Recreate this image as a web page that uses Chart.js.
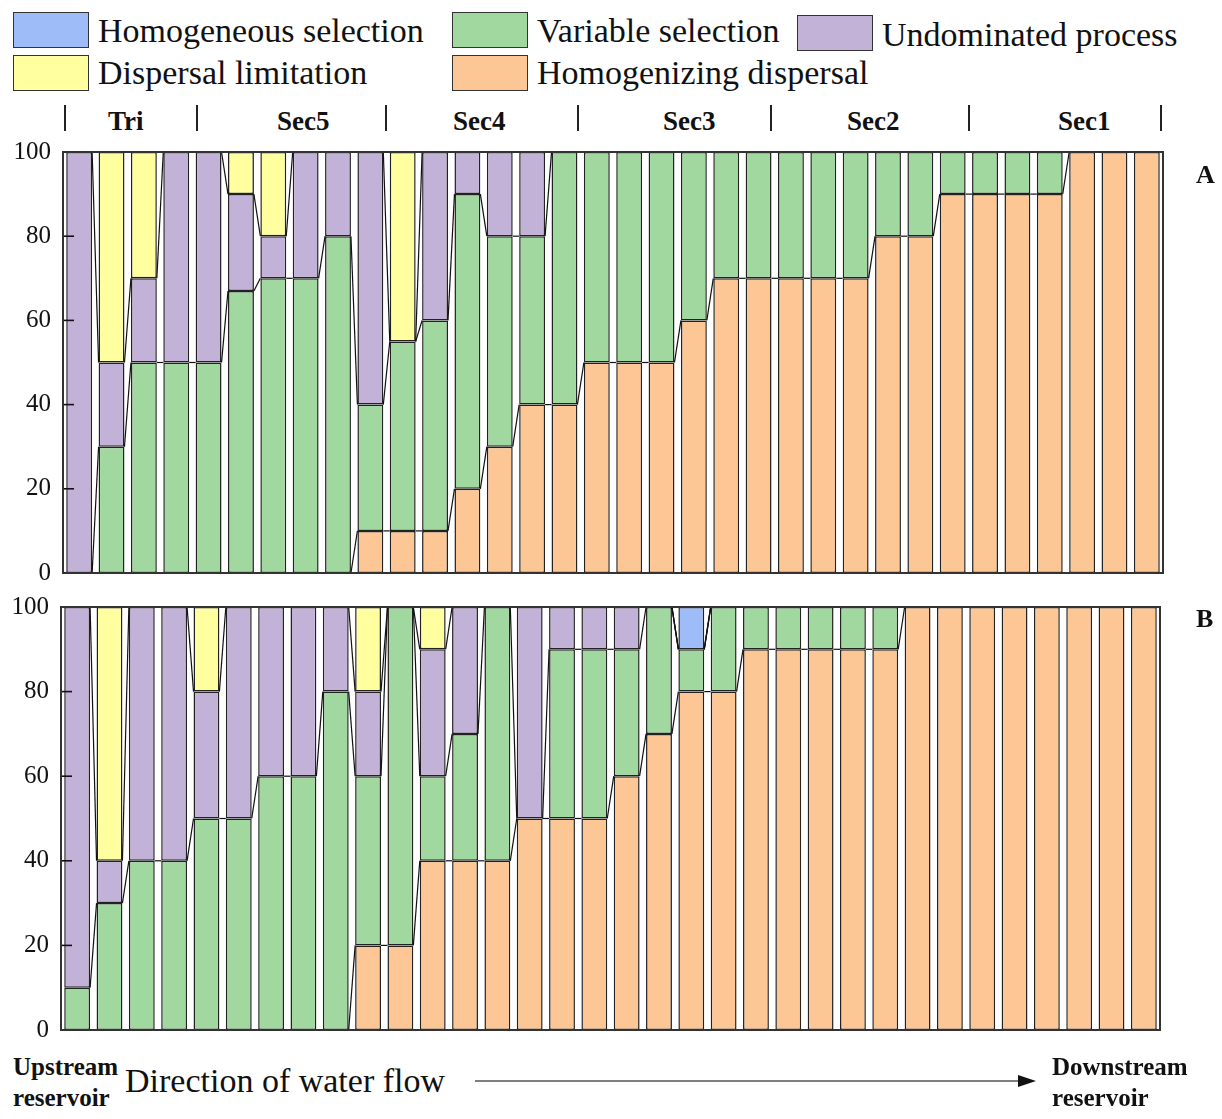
<!DOCTYPE html>
<html>
<head>
<meta charset="utf-8">
<script src="https://cdn.jsdelivr.net/npm/chart.js@4.4.1/dist/chart.umd.min.js"></script>
<style>
  body { margin: 0; background: #fff; font-family: "Liberation Serif", "Times New Roman", serif; color: #111; }
  #page { position: relative; width: 1222px; height: 1119px; overflow: hidden; }
  .key { position: absolute; width: 76px; height: 36px; border: 1.5px solid #333; box-sizing: border-box; }
  .ltxt { position: absolute; font-size: 34px; line-height: 34px; white-space: nowrap; }
  .sec { position: absolute; top: 108px; font-size: 27px; font-weight: bold; line-height: 27px; white-space: nowrap; }
  .sep { position: absolute; top: 105px; width: 2px; height: 26px; background: #222; }
  .panel { position: absolute; font-size: 26px; font-weight: bold; }
  .bold { position: absolute; font-size: 25px; font-weight: bold; line-height: 30px; white-space: nowrap; }
  canvas { position: absolute; left: 0; }
</style>
</head>
<body>
<div id="page">
  <div class="key" style="left:13px;top:12px;background:#9dbcf8"></div>
  <div class="ltxt" style="left:98px;top:14px">Homogeneous selection</div>
  <div class="key" style="left:452px;top:12px;background:#a0d8a0"></div>
  <div class="ltxt" style="left:537px;top:14px">Variable selection</div>
  <div class="key" style="left:797px;top:15px;background:#c3b2d8"></div>
  <div class="ltxt" style="left:882px;top:18px">Undominated process</div>
  <div class="key" style="left:13px;top:55px;background:#ffffa0"></div>
  <div class="ltxt" style="left:98px;top:56px">Dispersal limitation</div>
  <div class="key" style="left:452px;top:55px;background:#fdc795"></div>
  <div class="ltxt" style="left:537px;top:56px">Homogenizing dispersal</div>

  <div class="sep" style="left:64px"></div>
  <div class="sep" style="left:196px"></div>
  <div class="sep" style="left:385px"></div>
  <div class="sep" style="left:577px"></div>
  <div class="sep" style="left:770px"></div>
  <div class="sep" style="left:968px"></div>
  <div class="sep" style="left:1160px"></div>
  <div class="sec" style="left:108px">Tri</div>
  <div class="sec" style="left:277px">Sec5</div>
  <div class="sec" style="left:453px">Sec4</div>
  <div class="sec" style="left:663px">Sec3</div>
  <div class="sec" style="left:847px">Sec2</div>
  <div class="sec" style="left:1058px">Sec1</div>

  <canvas id="chartA" width="1222" height="445" style="top:140px"></canvas>
  <canvas id="chartB" width="1222" height="447" style="top:595px"></canvas>

  <div class="panel" style="left:1196px;top:160px">A</div>
  <div class="panel" style="left:1196px;top:604px">B</div>

  <div class="bold" style="left:13px;top:1052px">Upstream</div>
  <div class="bold" style="left:13px;top:1083px">reservoir</div>
  <div class="ltxt" style="left:125px;top:1064px">Direction of water flow</div>
  <svg style="position:absolute;left:0;top:0" width="1222" height="1119">
    <line x1="475" y1="1081" x2="1022" y2="1081" stroke="#555" stroke-width="1.5"/>
    <polygon points="1018,1075 1036,1081 1018,1087" fill="#111"/>
  </svg>
  <div class="bold" style="left:1052px;top:1052px">Downstream</div>
  <div class="bold" style="left:1052px;top:1083px">reservoir</div>
</div>

<script>
const sites = ['1','2','3','4','5','6','7','8','9','10','11','12','13','14','15','16','17',
  '18','19','20','21','22','23','24','25','26','27','28','29','30','31','32','33','34'];
const yTicks = [0, 20, 40, 60, 80, 100];

// panel A (%)
const homDispA = [0,0,0,0,0,0,0,0,0,10,10,10,20,30,40,40,50,50,50,60,70,70,70,70,70,80,80,90,90,90,90,100,100,100];
const varSelA  = [0,30,50,50,50,67,70,70,80,30,45,50,70,50,40,60,50,50,50,40,30,30,30,30,30,20,20,10,10,10,10,0,0,0];
const undomA   = [100,20,20,50,50,23,10,30,20,60,0,40,10,20,20,0,0,0,0,0,0,0,0,0,0,0,0,0,0,0,0,0,0,0];
const dispLimA = [0,50,30,0,0,10,20,0,0,0,45,0,0,0,0,0,0,0,0,0,0,0,0,0,0,0,0,0,0,0,0,0,0,0];
const homSelA  = [0,0,0,0,0,0,0,0,0,0,0,0,0,0,0,0,0,0,0,0,0,0,0,0,0,0,0,0,0,0,0,0,0,0];

// panel B (%)
const homDispB = [0,0,0,0,0,0,0,0,0,20,20,40,40,40,50,50,50,60,70,80,80,90,90,90,90,90,100,100,100,100,100,100,100,100];
const varSelB  = [10,30,40,40,50,50,60,60,80,40,80,20,30,60,0,40,40,30,30,10,20,10,10,10,10,10,0,0,0,0,0,0,0,0];
const undomB   = [90,10,60,60,30,50,40,40,20,20,0,30,30,0,50,10,10,10,0,0,0,0,0,0,0,0,0,0,0,0,0,0,0,0];
const dispLimB = [0,60,0,0,20,0,0,0,0,20,0,10,0,0,0,0,0,0,0,0,0,0,0,0,0,0,0,0,0,0,0,0,0,0];
const homSelB  = [0,0,0,0,0,0,0,0,0,0,0,0,0,0,0,0,0,0,0,10,0,0,0,0,0,0,0,0,0,0,0,0,0,0];

const colors = {
  homDisp: '#fdc795',
  varSel: '#a0d8a0',
  undom: '#c3b2d8',
  dispLim: '#ffffa0',
  homSel: '#9dbcf8'
};

// lines joining the stack tops of neighbouring bars, frame and inward ticks
const connectors = {
  id: 'connectors',
  afterDatasetsDraw(chart) {
    const ctx = chart.ctx;
    const area = chart.chartArea;
    ctx.save();
    ctx.strokeStyle = '#111';
    ctx.lineWidth = 1.2;
    chart.data.datasets.forEach((ds, i) => {
      const bars = chart.getDatasetMeta(i).data;
      for (let j = 0; j < bars.length - 1; j++) {
        const a = bars[j], b = bars[j + 1];
        ctx.beginPath();
        ctx.moveTo(a.x + a.width / 2, a.y);
        ctx.lineTo(b.x - b.width / 2, b.y);
        ctx.stroke();
      }
    });
    const ys = chart.scales.y;
    ctx.lineWidth = 1.6;
    yTicks.forEach(v => {
      const py = ys.getPixelForValue(v);
      ctx.beginPath();
      ctx.moveTo(area.left, py);
      ctx.lineTo(area.left + 11, py);
      ctx.stroke();
    });
    ctx.strokeStyle = '#333';
    ctx.lineWidth = 2;
    ctx.strokeRect(area.left, area.top, area.right - area.left, area.bottom - area.top);
    ctx.restore();
  }
};

function makeChart(id, series, axisWidth, padRight) {
  const names = ['homDisp', 'varSel', 'undom', 'dispLim', 'homSel'];
  return new Chart(document.getElementById(id), {
    type: 'bar',
    data: {
      labels: sites,
      datasets: series.map((d, i) => ({
        data: d,
        backgroundColor: colors[names[i]],
        borderColor: '#222',
        borderWidth: 1.5,
        borderSkipped: false,
        barPercentage: 0.8,
        categoryPercentage: 1.0
      }))
    },
    options: {
      responsive: false,
      animation: false,
      layout: { padding: { top: 12, right: padRight, bottom: 12, left: 0 } },
      plugins: { legend: { display: false }, tooltip: { enabled: false } },
      scales: {
        x: { stacked: true, display: false },
        y: {
          stacked: true,
          min: 0,
          max: 100,
          afterFit(scale) {
            scale.width = axisWidth;
            scale.paddingTop = 0;
            scale.paddingBottom = 0;
          },
          afterBuildTicks(scale) { scale.ticks = yTicks.map(v => ({ value: v })); },
          grid: { display: false, drawTicks: false },
          border: { display: false },
          ticks: {
            padding: 12,
            color: '#111',
            font: { family: 'Liberation Serif', size: 25 }
          }
        }
      }
    },
    plugins: [connectors]
  });
}

makeChart('chartA', [homDispA, varSelA, undomA, dispLimA, homSelA], 63, 59);
makeChart('chartB', [homDispB, varSelB, undomB, dispLimB, homSelB], 61, 62);
</script>
</body>
</html>
